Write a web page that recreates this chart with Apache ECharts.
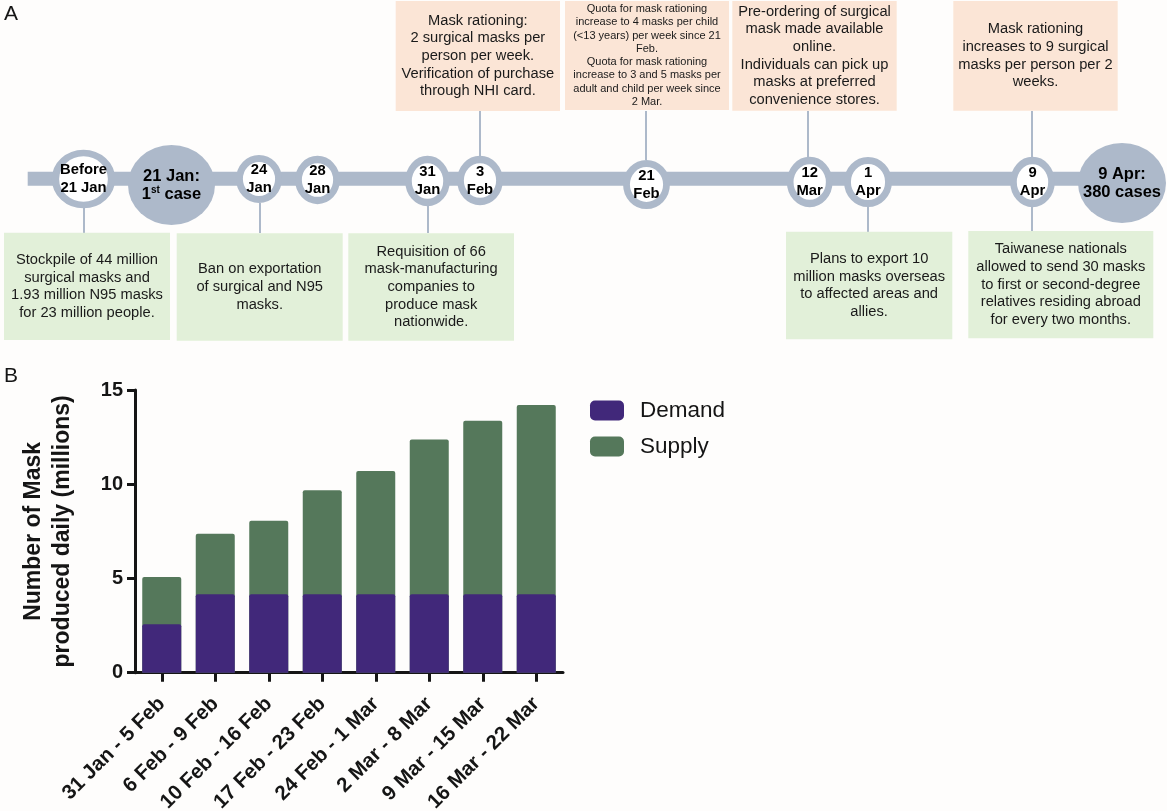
<!DOCTYPE html>
<html>
<head>
<meta charset="utf-8">
<script src="https://cdn.jsdelivr.net/npm/echarts@6/dist/echarts.min.js"></script>
<style>
html,body{margin:0;padding:0;background:#fefdfc;}
#chart{width:1167px;height:811px;}
</style>
</head>
<body>
<div id="chart"></div>
<script>
// ================= DATA =================
// Panel B: daily mask numbers (millions)
const weekCategories = ['31 Jan - 5 Feb','6 Feb - 9 Feb','10 Feb - 16 Feb','17 Feb - 23 Feb','24 Feb - 1 Mar','2 Mar - 8 Mar','9 Mar - 15 Mar','16 Mar - 22 Mar'];
const demandMillions = [2.57, 4.16, 4.16, 4.16, 4.16, 4.16, 4.16, 4.16];
const supplyMillions = [5.08, 7.37, 8.06, 9.68, 10.7, 12.38, 13.37, 14.2];
const yAxisTicks = [0, 5, 10, 15];
const seriesNames = ['Demand', 'Supply'];
const yAxisTitle = 'Number of Mask\nproduced daily (millions)';

// Panel A: timeline milestones
const milestoneLabels = ['Before\n21 Jan', '21 Jan:\n1{sup|st} case', '24\nJan', '28\nJan', '31\nJan', '3\nFeb', '21\nFeb', '12\nMar', '1\nApr', '9\nApr', '9 Apr:\n380 cases'];
const milestoneIsKey = [false, true, false, false, false, false, false, false, false, false, true];

const topNoteTexts = [
  'Mask rationing:\n2 surgical masks per\nperson per week.\nVerification of purchase\nthrough NHI card.',
  'Quota for mask rationing\nincrease to 4 masks per child\n(<13 years) per week since 21\nFeb.\nQuota for mask rationing\nincrease to 3 and 5 masks per\nadult and child per week since\n2 Mar.',
  'Pre-ordering of surgical\nmask made available\nonline.\nIndividuals can pick up\nmasks at preferred\nconvenience stores.',
  'Mask rationing\nincreases to 9 surgical\nmasks per person per 2\nweeks.'
];
const bottomNoteTexts = [
  'Stockpile of 44 million\nsurgical masks and\n1.93 million N95 masks\nfor 23 million people.',
  'Ban on exportation\nof surgical and N95\nmasks.',
  'Requisition of 66\nmask-manufacturing\ncompanies to\nproduce mask\nnationwide.',
  'Plans to export 10\nmillion masks overseas\nto affected areas and\nallies.',
  'Taiwanese nationals\nallowed to send 30 masks\nto first or second-degree\nrelatives residing abroad\nfor every two months.'
];

// ================= LAYOUT (panel-A pixel frame) =================
const nodeLayout = [
  [83.5, 179, 63, 59], [171.5, 185, 87, 80], [259, 179, 46, 48], [317.5, 180, 45, 48],
  [427.5, 181, 45, 50], [480, 180.5, 46, 49], [646.5, 184.5, 47, 49], [809.7, 182, 46, 50],
  [868, 182, 48, 50], [1032.5, 182, 45, 50], [1122, 183, 88, 80]
];
const spineLayout = [[27.7, 178.8], [1105, 178.8]];
const connectorLayout = [
  [84, 208, 233], [260, 203, 233], [428, 206, 233], [480, 111, 156], [646, 111, 160],
  [808, 111, 157], [868, 207, 232], [1032, 111, 157], [1032, 207, 231]
];
const topBoxLayout = [[395.7, 1, 560, 111], [565, 1, 729, 110], [732.3, 1, 896.7, 110.7], [953.3, 1, 1117.7, 110.7]];
const bottomBoxLayout = [[4, 232.7, 170, 340], [176.7, 233.3, 342.7, 340.7], [348.3, 233.3, 514, 340.7], [786, 231.7, 952.3, 339.3], [968.3, 231, 1153.3, 338.3]];
const topNoteFont = [[14.7, 17.7], [11, 13.3], [14.7, 17.7], [14.7, 17.7]];

// ================= STYLES =================
const FONT = '"Liberation Sans", Arial, Helvetica, sans-serif';
const GRAY = '#adb9ca';
const PEACH = '#fbe5d6';
const LIGHTGREEN = '#e2f0d9';
const DEMAND_COLOR = '#41287a';
const SUPPLY_COLOR = '#55785b';
const INK = '#151515';

// ================= BUILD =================
const nodeData = milestoneLabels.map((lab, i) => {
  const [x, y, w, h] = nodeLayout[i];
  const key = milestoneIsKey[i];
  return {
    value: [x, y],
    symbolSize: key ? [w, h] : [w - 7, h - 7],
    itemStyle: key ? { color: GRAY, borderWidth: 0, opacity: 1 } : { color: '#ffffff', borderColor: GRAY, borderWidth: 7, opacity: 1 },
    label: {
      formatter: lab,
      fontSize: key ? 16.5 : 14.8,
      lineHeight: 18
    }
  };
});

const boxNotes = [];
topNoteTexts.forEach((t, i) => boxNotes.push({ text: t, fill: PEACH, rect: topBoxLayout[i], fs: topNoteFont[i][0], lh: topNoteFont[i][1] }));
bottomNoteTexts.forEach((t, i) => boxNotes.push({ text: t, fill: LIGHTGREEN, rect: bottomBoxLayout[i], fs: 14.7, lh: 17.7 }));

const chart = echarts.init(document.getElementById('chart'), null, { renderer: 'canvas' });

const option = {
  backgroundColor: '#fefdfc',
  animation: false,
  textStyle: { fontFamily: FONT },
  graphic: [
    { type: 'text', left: 4, top: 4, style: { text: 'A', fontSize: 21, fontFamily: FONT, fill: INK } },
    { type: 'text', left: 4, top: 366, style: { text: 'B', fontSize: 21, fontFamily: FONT, fill: INK } }
  ],
  legend: {
    data: seriesNames,
    orient: 'vertical',
    left: 590,
    top: 399,
    padding: 0,
    itemWidth: 34,
    itemHeight: 20,
    itemGap: 13,
    icon: 'roundRect',
    textStyle: { fontSize: 22.5, fontFamily: FONT, color: INK, padding: [0, 0, 0, 11] },
    selectedMode: false
  },
  grid: [
    { left: 0, top: 0, width: 1167, height: 811, outerBoundsMode: 'none', containLabel: false },
    { left: 135, top: 390, width: 428, height: 282.7, outerBoundsMode: 'none', containLabel: false }
  ],
  xAxis: [
    { gridIndex: 0, type: 'value', min: 0, max: 1167, show: false },
    {
      gridIndex: 1, type: 'category', data: weekCategories,
      axisLine: { show: true, lineStyle: { color: INK, width: 3 } },
      axisTick: { show: true, alignWithLabel: true, length: 9, lineStyle: { color: INK, width: 3 } },
      axisLabel: { interval: 0, rotate: 45, margin: 28, fontSize: 20.5, fontWeight: 'bold', color: INK, fontFamily: FONT },
      splitLine: { show: false }
    }
  ],
  yAxis: [
    { gridIndex: 0, type: 'value', min: 0, max: 811, inverse: true, show: false },
    {
      gridIndex: 1, type: 'value',
      min: yAxisTicks[0], max: yAxisTicks[yAxisTicks.length - 1], interval: yAxisTicks[1] - yAxisTicks[0],
      name: yAxisTitle, nameLocation: 'middle', nameRotate: 90, nameGap: 58,
      nameTextStyle: { fontSize: 23, fontWeight: 'bold', lineHeight: 29, color: INK, fontFamily: FONT, align: 'center' },
      axisLine: { show: true, lineStyle: { color: INK, width: 3 } },
      axisTick: { show: true, length: 8, lineStyle: { color: INK, width: 3 } },
      axisLabel: { margin: 12, fontSize: 20, fontWeight: 'bold', color: INK, fontFamily: FONT },
      splitLine: { show: false }
    }
  ],
  series: [
    // ---- Panel A ----
    {
      type: 'line', xAxisIndex: 0, yAxisIndex: 0, data: spineLayout, symbol: 'none', silent: true, z: 1,
      lineStyle: { color: GRAY, width: 14, cap: 'butt' }
    },
    {
      type: 'lines', coordinateSystem: 'cartesian2d', xAxisIndex: 0, yAxisIndex: 0, silent: true, z: 1,
      data: connectorLayout.map(c => ({ coords: [[c[0], c[1]], [c[0], c[2]]] })),
      lineStyle: { color: GRAY, width: 2, opacity: 1 }
    },
    {
      type: 'scatter', xAxisIndex: 0, yAxisIndex: 0, data: nodeData, symbol: 'circle', silent: true, z: 3,
      itemStyle: { opacity: 1 },
      label: {
        show: true, position: 'inside', color: '#000', fontWeight: 'bold', fontFamily: FONT, align: 'center',
        rich: { sup: { fontSize: 10, fontWeight: 'bold', fontFamily: FONT, color: '#000', verticalAlign: 'top', lineHeight: 18 } }
      }
    },
    {
      type: 'custom', xAxisIndex: 0, yAxisIndex: 0, silent: true, z: 2, clip: false,
      data: boxNotes.map(b => b.rect),
      encode: { x: [0, 2], y: [1, 3] },
      renderItem: function (params, api) {
        const a = api.coord([api.value(0), api.value(1)]);
        const b = api.coord([api.value(2), api.value(3)]);
        const note = boxNotes[params.dataIndex];
        return {
          type: 'group',
          children: [
            { type: 'rect', shape: { x: a[0], y: a[1], width: b[0] - a[0], height: b[1] - a[1] }, style: { fill: note.fill } },
            {
              type: 'text', x: (a[0] + b[0]) / 2, y: (a[1] + b[1]) / 2,
              style: { text: note.text, align: 'center', verticalAlign: 'middle', fontSize: note.fs, lineHeight: note.lh, fontFamily: FONT, fill: '#1a1a1a' }
            }
          ]
        };
      }
    },
    // ---- Panel B ----
    {
      name: 'Supply', type: 'bar', xAxisIndex: 1, yAxisIndex: 1, data: supplyMillions,
      barWidth: 39, barGap: '-100%', z: 2,
      itemStyle: { color: SUPPLY_COLOR, borderRadius: [2, 2, 0, 0] }
    },
    {
      name: 'Demand', type: 'bar', xAxisIndex: 1, yAxisIndex: 1, data: demandMillions,
      barWidth: 39, barGap: '-100%', z: 3,
      itemStyle: { color: DEMAND_COLOR, borderRadius: [2, 2, 0, 0] }
    }
  ]
};

chart.setOption(option);
</script>
</body>
</html>
